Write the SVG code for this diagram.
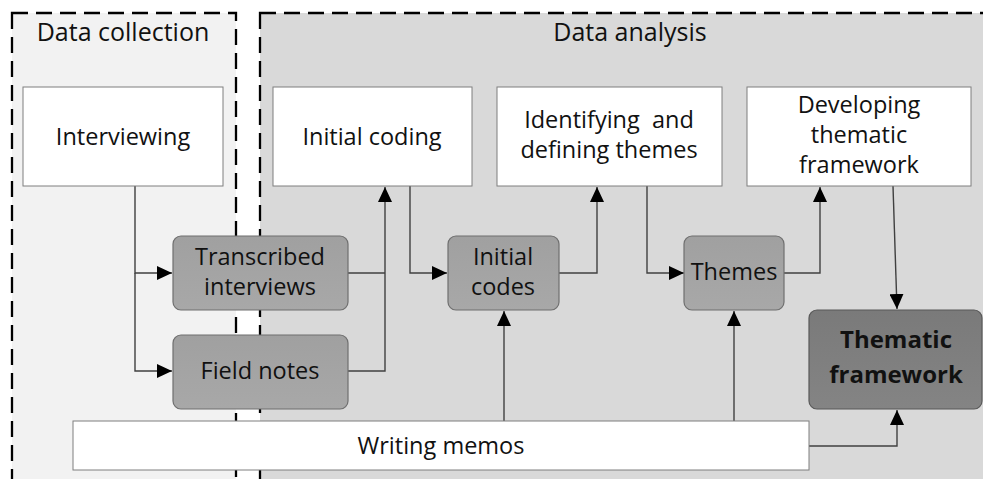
<svg xmlns="http://www.w3.org/2000/svg" width="983" height="479" viewBox="0 0 983 479">
<style>
.t{font-family:"Open Sans","Noto Sans",sans-serif;font-size:23.5px;fill:#111;text-anchor:middle}
.h{font-size:25px}
.b{font-weight:bold;font-size:24px}
.w{fill:#fff;stroke:#7f7f7f;stroke-width:1}
.g{fill:url(#gg);stroke:#6f6f6f;stroke-width:1.2}
.c{fill:none;stroke:#404040;stroke-width:1.4}
.d{stroke:#000;stroke-width:2.3;stroke-dasharray:16,8}
</style>
<defs>
<linearGradient id="gg" x1="0" y1="0" x2="0" y2="1"><stop offset="0" stop-color="#a0a0a0"/><stop offset="1" stop-color="#a8a8a8"/></linearGradient>
<linearGradient id="gd" x1="0" y1="0" x2="0" y2="1"><stop offset="0" stop-color="#7a7a7a"/><stop offset="1" stop-color="#848484"/></linearGradient>
<marker id="a" markerWidth="15" markerHeight="14" refX="15" refY="7" orient="auto" markerUnits="userSpaceOnUse"><path d="M0,0L15,7L0,14z" fill="#000"/></marker>
</defs>
<rect width="983" height="479" fill="#fff"/>
<g id="data-collection">
<rect x="12" y="13" width="224" height="480" fill="#f2f2f2" class="d"/>
<text class="t h" x="123" y="41">Data collection</text>
</g>
<g id="data-analysis">
<rect x="260" y="13" width="740" height="480" fill="#d9d9d9" class="d"/>
<text class="t h" x="630" y="41">Data analysis</text>
</g>
<g id="connectors">
<path class="c" d="M135,186V273H172" marker-end="url(#a)"/>
<path class="c" d="M135,273V371H172" marker-end="url(#a)"/>
<path class="c" d="M348,273H385M348,371H385V187" marker-end="url(#a)"/>
<path class="c" d="M410,186V273H447" marker-end="url(#a)"/>
<path class="c" d="M559,273H597V187" marker-end="url(#a)"/>
<path class="c" d="M647,186V273H684" marker-end="url(#a)"/>
<path class="c" d="M784,273H820V187" marker-end="url(#a)"/>
<path class="c" d="M893,186L897,309" marker-end="url(#a)"/>
<path class="c" d="M504,421V311" marker-end="url(#a)"/>
<path class="c" d="M734,421V311" marker-end="url(#a)"/>
<path class="c" d="M809,446H897V410" marker-end="url(#a)"/>
</g>
<g id="interviewing"><rect class="w" x="23" y="87" width="200" height="99"/><text class="t" x="123" y="145">Interviewing</text></g>
<g id="initial-coding"><rect class="w" x="273" y="87" width="199" height="99"/><text class="t" x="372" y="145">Initial coding</text></g>
<g id="identifying"><rect class="w" x="497" y="87" width="225" height="99"/><text class="t" x="609" y="128" style="white-space:pre">Identifying  and</text><text class="t" x="609" y="158">defining themes</text></g>
<g id="developing"><rect class="w" x="747" y="87" width="224" height="99"/><text class="t" x="859" y="113">Developing</text><text class="t" x="859" y="143">thematic</text><text class="t" x="859" y="173">framework</text></g>
<g id="transcribed"><rect class="g" x="173" y="236" width="175" height="74" rx="8"/><text class="t" x="260" y="265">Transcribed</text><text class="t" x="260" y="295">interviews</text></g>
<g id="field-notes"><rect class="g" x="173" y="335" width="175" height="74" rx="8"/><text class="t" x="260" y="379">Field notes</text></g>
<g id="initial-codes"><rect class="g" x="448" y="236" width="111" height="74" rx="8"/><text class="t" x="503" y="265">Initial</text><text class="t" x="503" y="295">codes</text></g>
<g id="themes"><rect class="g" x="684" y="236" width="100" height="74" rx="8"/><text class="t" x="734" y="280">Themes</text></g>
<g id="thematic-framework"><rect x="809" y="310" width="173" height="99" rx="8" fill="url(#gd)" stroke="#595959" stroke-width="1.2"/><text class="t b" x="896" y="348">Thematic</text><text class="t b" x="896" y="383">framework</text></g>
<g id="writing-memos"><rect class="w" x="73" y="421" width="736" height="49"/><text class="t" x="441" y="454">Writing memos</text></g>
</svg>
